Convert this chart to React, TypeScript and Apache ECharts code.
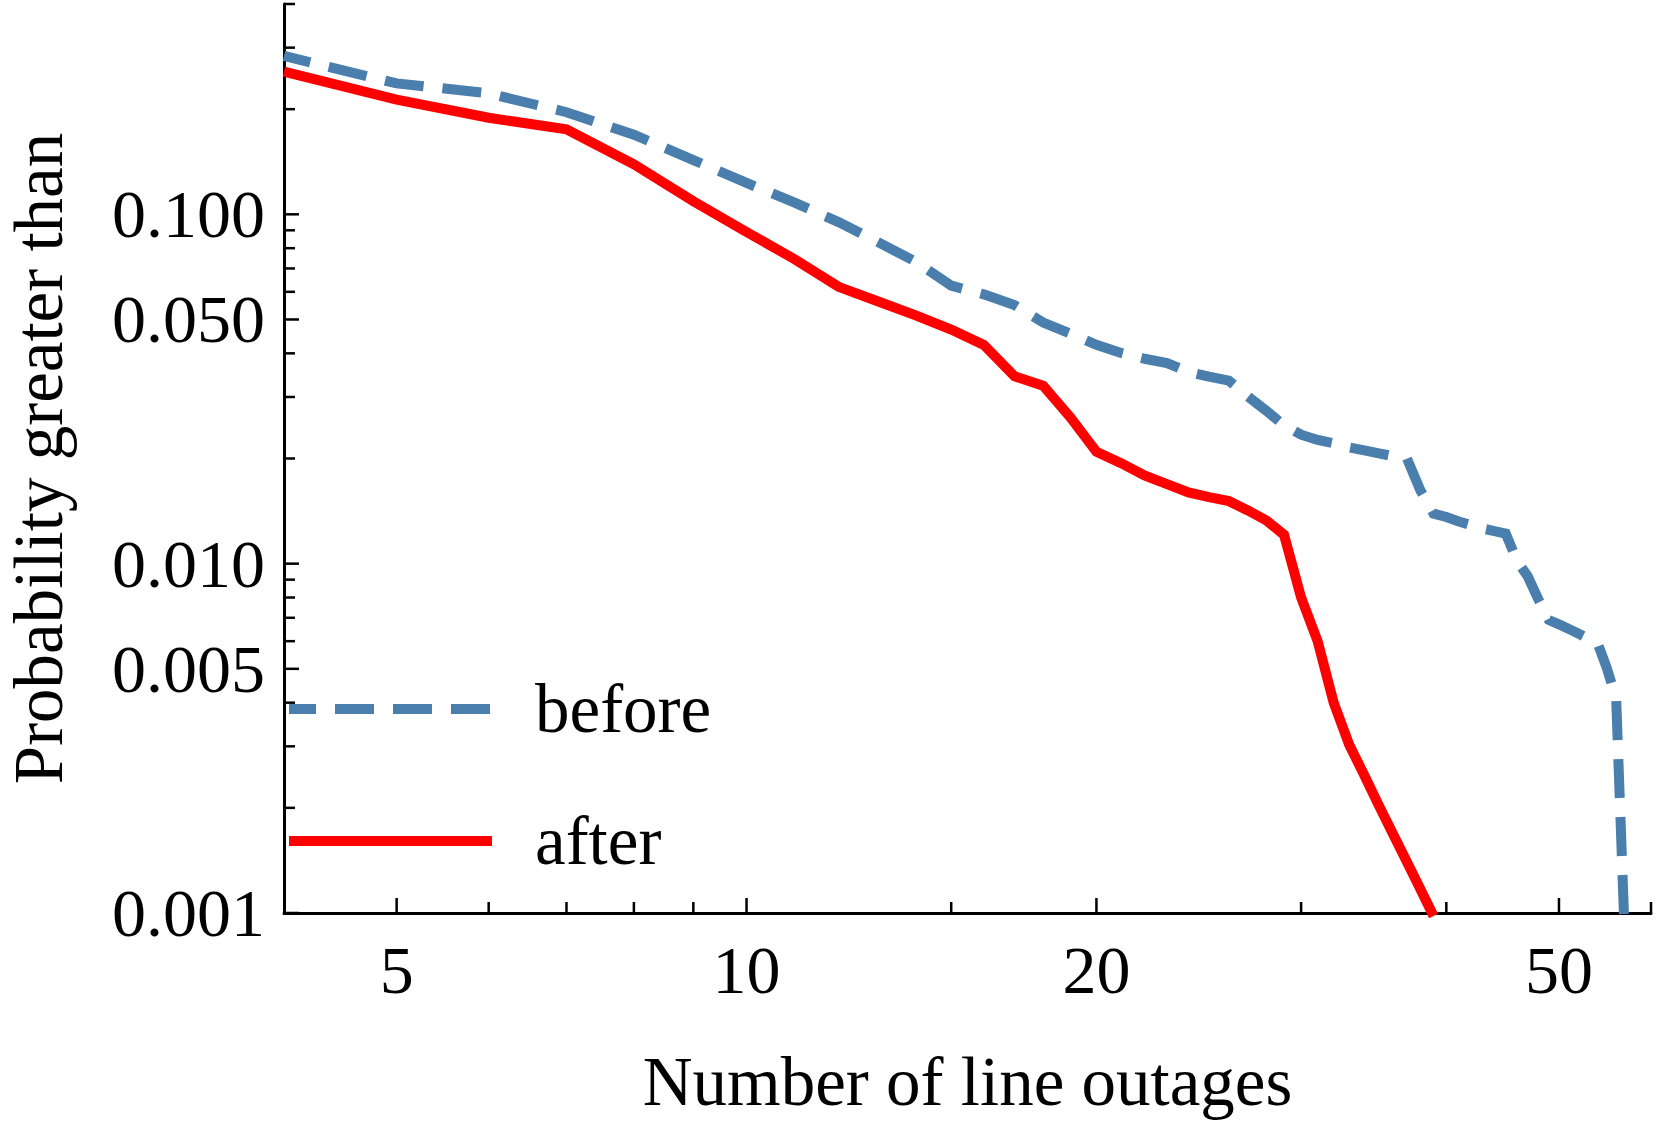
import React, { useEffect, useRef } from "react";
import * as echarts from "echarts";

// ---------- data ----------
const beforeOutages = [
  4, 5, 6, 7, 8, 9, 10, 11, 12, 13, 14, 15, 16, 17, 18, 19, 20, 21, 22, 23, 24, 25, 26, 27, 28, 29, 30,
  31, 32, 33, 34, 35, 36, 37, 38, 39, 40, 41, 42, 43, 44, 45, 46, 47, 48, 49, 50, 51, 52, 53, 54, 55, 56, 57,
];
const beforeProb = [
  0.284, 0.237, 0.222, 0.196, 0.169, 0.143, 0.123, 0.108, 0.095, 0.083, 0.073, 0.0625, 0.059, 0.055,
  0.049, 0.0455, 0.0423, 0.0401, 0.0386, 0.0375, 0.0354, 0.0343, 0.0334, 0.0301, 0.0274, 0.0249, 0.0234,
  0.0226, 0.0221, 0.0215, 0.0211, 0.0207, 0.0203, 0.02, 0.0162, 0.0139, 0.0136, 0.0132, 0.0129, 0.0126,
  0.0124, 0.0122, 0.0102, 0.0092, 0.0079, 0.0069, 0.0067, 0.0065, 0.0063, 0.0061, 0.0059, 0.005, 0.0041,
  0.0008,
];
const afterOutages = [
  4, 5, 6, 7, 8, 9, 10, 11, 12, 13, 14, 15, 16, 17, 18, 19, 20, 21, 22, 23, 24, 25, 26, 27, 28, 29, 30,
  31, 32, 33, 34, 35, 36, 37, 38, 39,
];
const afterProb = [
  0.256, 0.213, 0.189, 0.175, 0.139, 0.109, 0.089, 0.0744, 0.062, 0.0562, 0.0513, 0.0468, 0.0423, 0.0344,
  0.0323, 0.0262, 0.0209, 0.0194, 0.0179, 0.0169, 0.016, 0.0155, 0.0151, 0.0142, 0.0133, 0.0121, 0.008,
  0.006, 0.004, 0.00303, 0.00248, 0.00203, 0.00168, 0.0014, 0.00117, 0.00098,
];

const xMajorTicks = [5, 10, 20, 50];
const xMajorLabels = ["5", "10", "20", "50"];
const xMinorTicks = [6, 7, 8, 9, 15, 30, 40, 60];
const yMajorTicks = [0.001, 0.005, 0.01, 0.05, 0.1];
const yMajorLabels = ["0.001", "0.005", "0.010", "0.050", "0.100"];
const yMinorTicks = [
  0.002, 0.003, 0.004, 0.006, 0.007, 0.008, 0.009, 0.02, 0.03, 0.04, 0.06, 0.07, 0.08, 0.09, 0.2, 0.3, 0.4,
];

const X_MIN = 4;
const X_MAX = 60;
const Y_MIN = 0.001;
const Y_MAX = 0.4;

const FONT = "Liberation Serif";
const BLUE = "#4a7eac";
const RED = "#ff0000";
const LINE_W = 10;

export default function App() {
  const ref = useRef<HTMLDivElement>(null);

  useEffect(() => {
    document.body.style.margin = "0";
    const chart = echarts.init(ref.current as HTMLDivElement, null, { renderer: "svg" });

    const xTickData = [
      ...xMajorTicks.map((v, i) => [v, Y_MIN, 1, i]),
      ...xMinorTicks.map((v) => [v, Y_MIN, 0, -1]),
    ];
    const yTickData = [
      ...yMajorTicks.map((v, i) => [X_MIN, v, 1, i]),
      ...yMinorTicks.map((v) => [X_MIN, v, 0, -1]),
    ];

    const option: any = {
      animation: false,
      backgroundColor: "#ffffff",
      grid: { left: 284, right: 10, top: 4, bottom: 217, containLabel: false, outerBoundsMode: "none" },
      xAxis: {
        type: "log",
        logBase: 10,
        min: X_MIN,
        max: X_MAX,
        name: "Number of line outages",
        nameLocation: "middle",
        nameGap: 134,
        nameTextStyle: { fontFamily: FONT, fontSize: 69, color: "#000", lineHeight: 69 },
        axisLine: { show: true, onZero: false, lineStyle: { color: "#000", width: 3 } },
        axisTick: { show: false },
        axisLabel: { show: false },
        splitLine: { show: false },
        minorTick: { show: false },
        minorSplitLine: { show: false },
      },
      yAxis: {
        type: "log",
        logBase: 10,
        min: Y_MIN,
        max: Y_MAX,
        name: "Probability greater than",
        nameLocation: "middle",
        nameGap: 211,
        nameTextStyle: { fontFamily: FONT, fontSize: 69, color: "#000", lineHeight: 69 },
        axisLine: { show: true, onZero: false, lineStyle: { color: "#000", width: 3 } },
        axisTick: { show: false },
        axisLabel: { show: false },
        splitLine: { show: false },
        minorTick: { show: false },
        minorSplitLine: { show: false },
      },
      legend: {
        data: ["before", "after"],
        orient: "vertical",
        left: 284,
        top: 674.5,
        padding: 0,
        itemWidth: 203,
        itemHeight: 14,
        itemGap: 63,
        selectedMode: false,
        itemStyle: { opacity: 0, borderWidth: 0 },
        lineStyle: { width: LINE_W },
        textStyle: {
          fontFamily: FONT,
          fontSize: 69,
          color: "#000",
          lineHeight: 69,
          padding: [0, 0, 0, 38],
        },
      },
      series: [
        {
          name: "before",
          type: "line",
          data: beforeOutages.map((x, i) => [x, beforeProb[i]]),
          symbol: "none",
          showSymbol: false,
          lineStyle: {
            color: BLUE,
            width: LINE_W,
            type: [39, 19],
            dashOffset: 12,
            cap: "butt",
            join: "miter",
          },
          itemStyle: { color: BLUE },
          z: 3,
        },
        {
          name: "after",
          type: "line",
          data: afterOutages.map((x, i) => [x, afterProb[i]]),
          symbol: "none",
          showSymbol: false,
          lineStyle: { color: RED, width: LINE_W, type: "solid", join: "miter" },
          itemStyle: { color: RED },
          z: 4,
        },
        {
          name: "xTicks",
          type: "custom",
          silent: true,
          clip: false,
          z: 6,
          data: xTickData,
          renderItem: (params: any, api: any) => {
            const v = api.value(0);
            const major = api.value(2) === 1;
            const idx = api.value(3);
            const p = api.coord([v, Y_MIN]);
            const len = major ? 15 : 11;
            const children: any[] = [
              {
                type: "line",
                shape: { x1: p[0], y1: p[1], x2: p[0], y2: p[1] - len },
                style: { stroke: "#000", lineWidth: 2.5 },
              },
            ];
            if (major) {
              children.push({
                type: "text",
                x: p[0],
                y: p[1] + 57,
                style: {
                  text: xMajorLabels[idx],
                  fontFamily: FONT,
                  fontSize: 68,
                  fill: "#000",
                  align: "center",
                  verticalAlign: "middle",
                },
              });
            }
            return { type: "group", children };
          },
        },
        {
          name: "yTicks",
          type: "custom",
          silent: true,
          clip: false,
          z: 6,
          data: yTickData,
          renderItem: (params: any, api: any) => {
            const v = api.value(1);
            const major = api.value(2) === 1;
            const idx = api.value(3);
            const p = api.coord([X_MIN, v]);
            const len = major ? 15 : 11;
            const children: any[] = [
              {
                type: "line",
                shape: { x1: p[0], y1: p[1], x2: p[0] + len, y2: p[1] },
                style: { stroke: "#000", lineWidth: 2.5 },
              },
            ];
            if (major) {
              children.push({
                type: "text",
                x: p[0] - 19,
                y: p[1],
                style: {
                  text: yMajorLabels[idx],
                  fontFamily: FONT,
                  fontSize: 68,
                  fill: "#000",
                  align: "right",
                  verticalAlign: "middle",
                },
              });
            }
            return { type: "group", children };
          },
        },
      ],
    };

    chart.setOption(option);
    return () => {
      chart.dispose();
    };
  }, []);

  return (
    <div
      ref={ref}
      style={{ position: "fixed", left: 0, top: 0, width: 1661, height: 1130, background: "#fff" }}
    />
  );
}
